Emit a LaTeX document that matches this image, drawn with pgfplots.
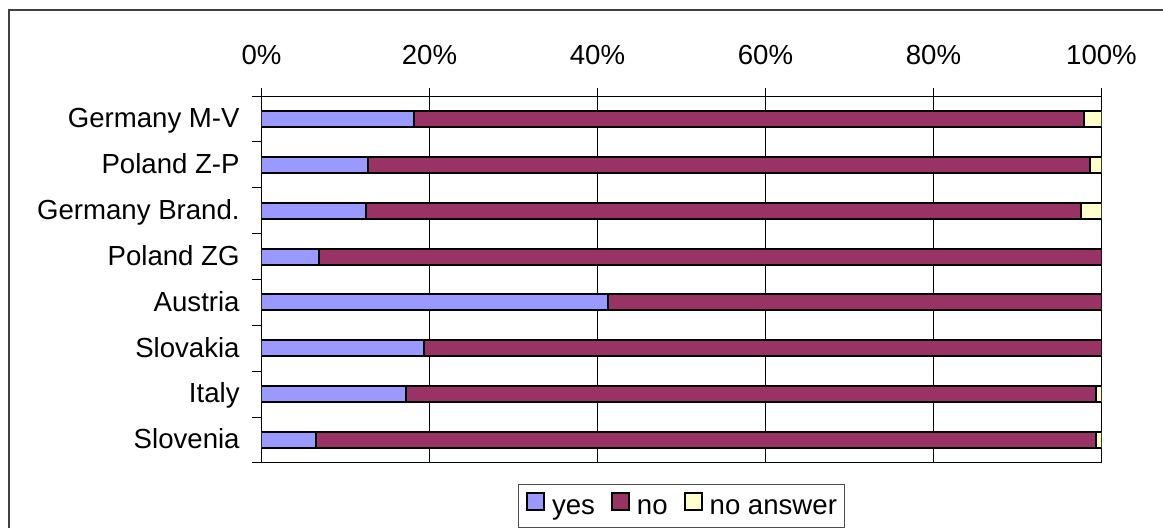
\documentclass[border=0pt]{standalone}
\usepackage{fontspec}
\setmainfont{Liberation Sans}
\usepackage{pgfplots}
\pgfplotsset{compat=1.18}

\definecolor{cyes}{HTML}{9999FF}
\definecolor{cno}{HTML}{993366}
\definecolor{cna}{HTML}{FFFFCC}

\begin{document}
\begin{tikzpicture}
\fontsize{13.8pt}{16pt}\selectfont
% outer chart frame
\draw[line width=0.7pt, black!75] (4.5pt,-5pt) rectangle (620pt,-300pt);
\begin{axis}[
  at={(130.75pt,-231.5pt)}, anchor=south west,
  scale only axis, width=420pt, height=183.5pt,
  xbar stacked, bar width=0.35,
  xmin=0, xmax=100, ymin=-0.5, ymax=7.5,
  axis line style={line width=0.5pt, black},
  xtick={0,20,40,60,80,100},
  xticklabels={0\%,20\%,40\%,60\%,80\%,100\%},
  xtick pos=upper, xticklabel pos=upper,
  tick align=outside, major tick length=4pt,
  xmajorgrids, grid style={line width=0.5pt, black},
  xticklabel style={inner sep=0pt, anchor=base, yshift=12pt},
  ytick={0,...,7},
  yticklabels={Slovenia,Italy,Slovakia,Austria,Poland ZG,Germany Brand.,Poland Z-P,Germany M-V},
  ytick pos=left,
  ytick style={draw=none},
  yticklabel style={inner sep=0pt, anchor=base east, xshift=-6.75pt, yshift=-4.4pt},
  extra y ticks={-0.5,0.5,1.5,2.5,3.5,4.5,5.5,6.5,7.5},
  extra y tick labels={},
  extra y tick style={ytick style={draw=black, line width=0.5pt}, major tick length=5pt},
  tick style={line width=0.5pt, black},
  every axis plot/.append style={draw=black, line width=1pt},
  legend columns=3,
  legend style={at={(0.5,-0.1163)}, anchor=center, draw=black!70, line width=0.5pt,
    inner xsep=4pt, inner ysep=4pt, nodes={inner sep=0pt, text height=7.5pt, text depth=2.5pt},
    /tikz/every odd column/.append style={column sep=3.5pt},
    /tikz/every even column/.append style={column sep=8pt}},
  legend image code/.code={\draw[#1, line width=1pt] (0pt,-0.5pt) rectangle (8.5pt,8pt);},
]
\addplot[fill=cyes] coordinates {(6.5,0) (17.2,1) (19.4,2) (41.3,3) (6.8,4) (12.4,5) (12.7,6) (18.2,7)};
\addplot[fill=cno] coordinates {(92.8,0) (82.1,1) (80.6,2) (58.7,3) (93.2,4) (85.2,5) (85.9,6) (79.7,7)};
\addplot[fill=cna] coordinates {(0.7,0) (0.7,1) (0,2) (0,3) (0,4) (2.4,5) (1.4,6) (2.1,7)};
\legend{yes,no,no answer}
\end{axis}
\pgfresetboundingbox
\useasboundingbox (0,0) rectangle (581.5pt,-264pt);
\end{tikzpicture}
\end{document}
